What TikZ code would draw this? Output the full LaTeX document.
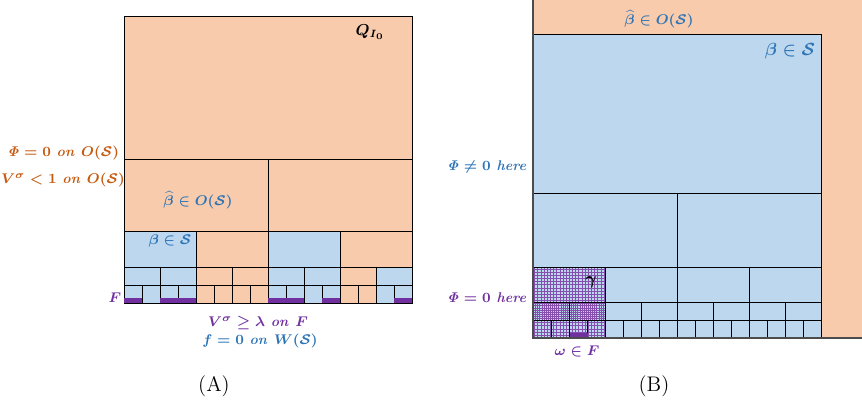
\documentclass[tikz,border=0pt]{standalone}
\usepackage{amsmath,amssymb}
\usetikzlibrary{positioning}
\definecolor{peach}{HTML}{F8CBAD}
\definecolor{sky}{HTML}{BDD7EE}
\definecolor{rust}{HTML}{C55A11}
\definecolor{steel}{HTML}{2E75B6}
\definecolor{plum}{HTML}{7030A0}
\tikzstyle{cello} = [draw=black, fill=peach, line width=0.5pt]
\tikzstyle{cellb} = [draw=black, fill=sky, line width=0.5pt]
\tikzstyle{fbar} = [fill=plum, draw=none]
\tikzstyle{hatch} = [draw=plum!85, line width=0.3pt]
\tikzstyle{lbl} = [inner sep=0pt, font=\footnotesize\bfseries\boldmath]

\begin{document}
\begin{tikzpicture}[x=0.02cm, y=-0.02cm]
	\useasboundingbox (0,0) rectangle (862,410);

	% (A) the cube Q_{I_0}
	\draw[cello] (124,16) rectangle (412,303);
	\foreach \c [count=\i from 0] in {o,o}
		\draw[cell\c] ({124+144*\i},159) rectangle ++(144,72);
	\foreach \c [count=\i from 0] in {b,o,b,o}
		\draw[cell\c] ({124+72*\i},231) rectangle ++(72,36);
	\foreach \c [count=\i from 0] in {b,b,o,o,b,b,o,b}
		\draw[cell\c] ({124+36*\i},267) rectangle ++(36,18);
	\foreach \c [count=\i from 0] in {b,b,b,b,o,o,o,o,b,b,b,b,o,o,b,b}
		\draw[cell\c] ({124+18*\i},285) rectangle ++(18,18);
	\foreach \i in {0,2,3,8,9,11,15}
		\fill[fbar] ({124+18*\i},298) rectangle ++(18,5);

	\node[lbl, font=\small\bfseries\boldmath] (qi) at (370,32) {$Q_{I_0}$};
	\node[lbl, text=rust] (phiA) at (63,153) {$\mathit{\Phi}=0\ \mathit{on}\ O(\mathcal{S})$};
	\node[lbl, text=rust] (vA) at (63,180) {$V^{\sigma}<1\ \mathit{on}\ O(\mathcal{S})$};
	\node[lbl, text=steel] (bhatA) at (198,200) {$\widehat{\beta}\in O(\mathcal{S})$};
	\node[lbl, text=steel] (bA) at (170,241) {$\beta\in\mathcal{S}$};
	\node[lbl, text=plum] (fA) at (115,298) {$F$};
	\node[lbl, text=plum] (vF) at (258,323) {$V^{\sigma}\geq\lambda\ \mathit{on}\ F$};
	\node[lbl, text=steel] (fW) at (260,341) {$f=0\ \mathit{on}\ W(\mathcal{S})$};
	\node[font=\large] (capA) at (214,386) {(A)};

	% (B) zoom on a stopping cube
	\fill[peach] (533,0) rectangle (862,338);
	\draw[cellb] (533,34) rectangle (821,338);
	\foreach \c [count=\i from 0] in {b,b}
		\draw[cell\c] ({533+144*\i},193) rectangle ++(144,74);
	\foreach \c [count=\i from 0] in {b,b,b,b}
		\draw[cell\c] ({533+72*\i},267) rectangle ++(72,35);
	\foreach \c [count=\i from 0] in {b,b,b,b,b,b,b,b}
		\draw[cell\c] ({533+36*\i},302) rectangle ++(36,18);
	\foreach \c [count=\i from 0] in {b,b,b,b,b,b,b,b,b,b,b,b,b,b,b,b}
		\draw[cell\c] ({533+18*\i},320) rectangle ++(18,18);
	% the cube gamma and its children
	\begin{scope}
		\clip (533,267) rectangle (605,302);
		\draw[hatch, step=1.8pt] (533,267) grid (605,302);
	\end{scope}
	\begin{scope}
		\clip (533,302) rectangle (605,320);
		\draw[hatch, step=1.2pt] (533,302) grid (605,320);
	\end{scope}
	\begin{scope}
		\clip (533,320) rectangle (605,338);
		\draw[hatch, step=1.8pt] (533,320) grid (605,338);
	\end{scope}
	\draw[line width=0.5pt] (533,267) rectangle (605,302);
	\foreach \i in {0,1}
		\draw[line width=0.5pt] ({533+36*\i},302) rectangle ++(36,18);
	\foreach \i in {0,...,3}
		\draw[line width=0.5pt] ({533+18*\i},320) rectangle ++(18,18);
	\fill[fbar] (570,333) rectangle (588,338);
	\draw[black!70, line width=0.6pt] (533,0) -- (533,338) -- (862,338);

	\node[lbl, text=steel] (bhatB) at (659,19) {$\widehat{\beta}\in O(\mathcal{S})$};
	\node[lbl, text=steel, font=\normalsize\bfseries\boldmath] (bB) at (790,51) {$\beta\in\mathcal{S}$};
	\node[lbl, text=steel] (phiB) at (487,167) {$\mathit{\Phi}\neq0\ \mathit{here}$};
	\node[lbl, text=plum] (zeroB) at (487,298) {$\mathit{\Phi}=0\ \mathit{here}$};
	\node[lbl, font=\normalsize\bfseries\boldmath] (gam) at (591,282) {$\gamma$};
	\node[lbl, text=plum] (om) at (577,351) {$\omega\in F$};
	\node[font=\large] (capB) at (654,386) {(B)};
\end{tikzpicture}
\end{document}
